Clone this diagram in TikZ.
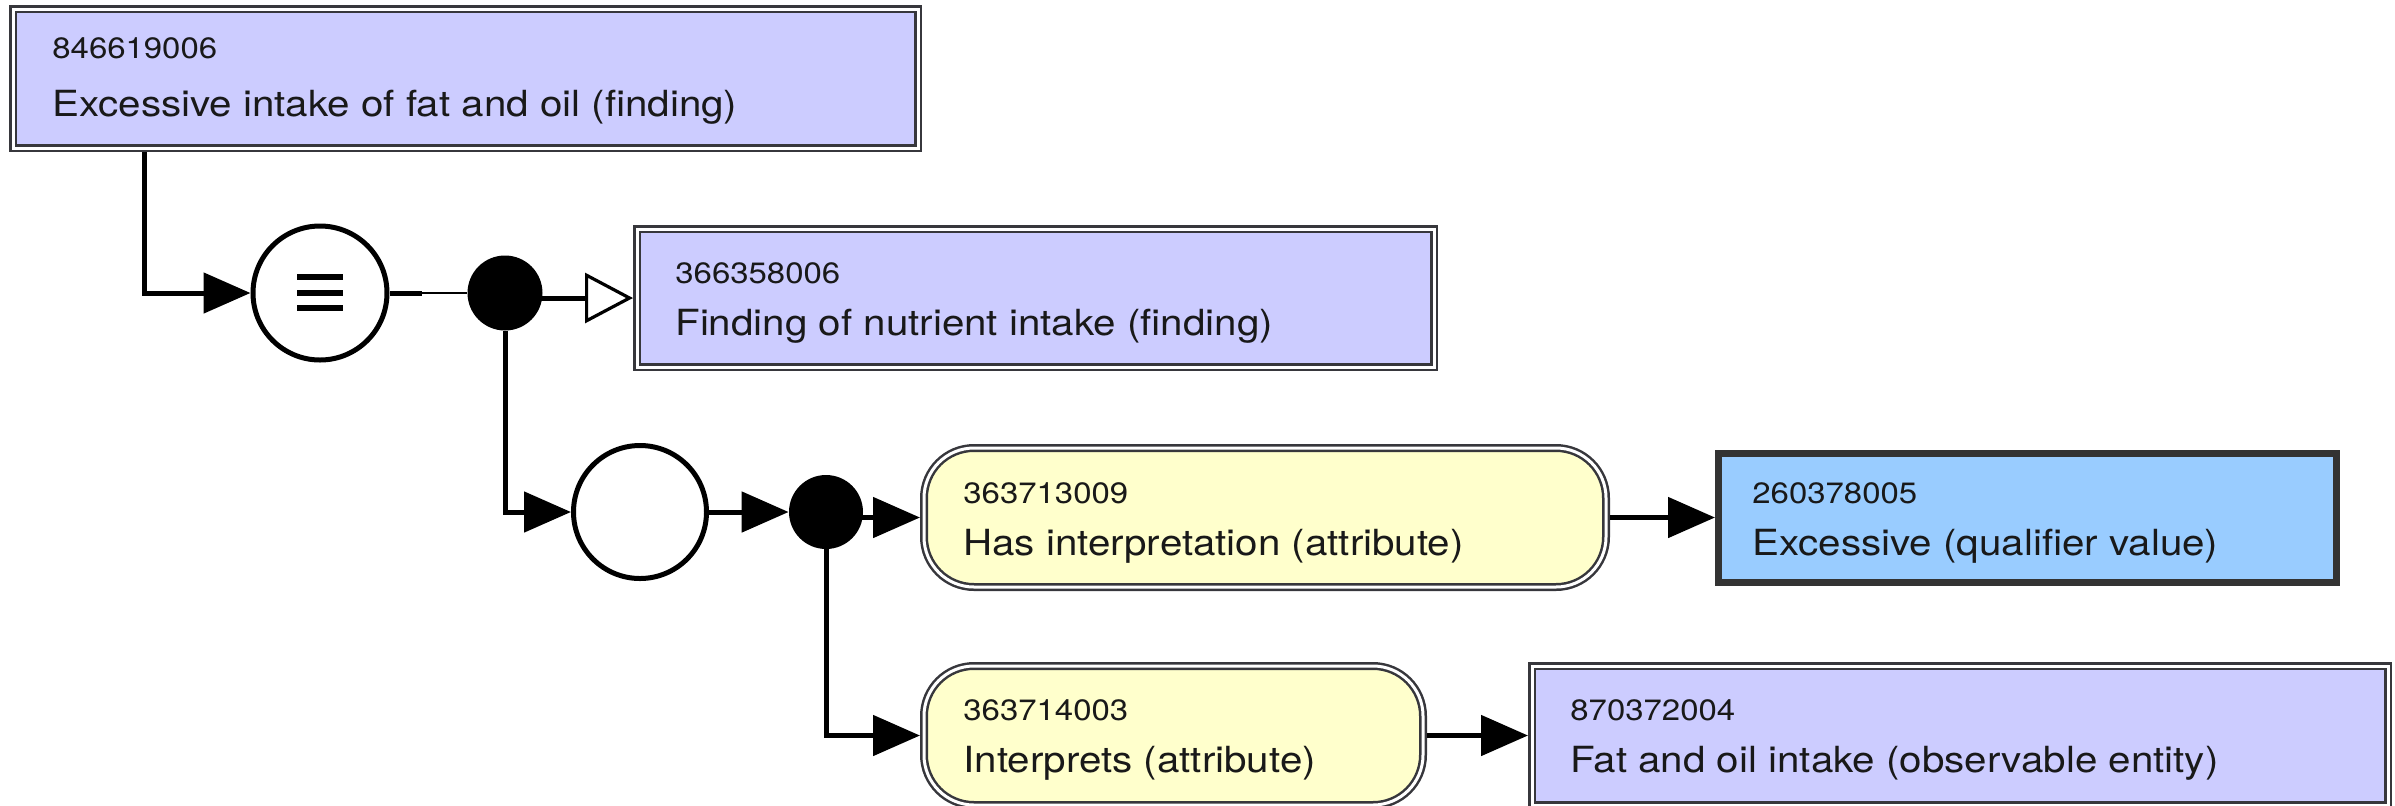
\documentclass[tikz,border=0pt]{standalone}
\usepackage{fontspec}
\usetikzlibrary{arrows.meta}
\newfontfamily\heros[FakeStretch=1.12]{TeX Gyre Heros}
\definecolor{lav}{RGB}{204,204,255}
\definecolor{pale}{RGB}{255,255,204}
\definecolor{sky}{RGB}{153,204,255}
\definecolor{edge}{RGB}{55,55,60}
\newcommand{\idtext}[1]{{\heros\fontsize{14.7pt}{16pt}\selectfont #1}}
\newcommand{\nametext}[1]{{\heros\fontsize{18pt}{20pt}\selectfont #1}}
\tikzset{
  concept/.style={rectangle, draw=edge, double=white, double distance=1.5pt,
    line width=1.25pt, fill=lav, inner sep=0pt, outer sep=2pt},
  attribute/.style={rectangle, rounded corners=25pt, draw=edge, double=white,
    double distance=1.5pt, line width=1.25pt, fill=pale, inner sep=0pt, outer sep=2pt},
  valuebox/.style={rectangle, draw=black!80, line width=3.5pt, fill=sky, inner sep=0pt},
  opcircle/.style={circle, draw=black, line width=2.5pt, fill=white, inner sep=0pt},
  junction/.style={circle, fill=black, inner sep=0pt},
  lbl/.style={anchor=base west, inner sep=0pt, text=black!90},
  conn/.style={line width=2.5pt, -{Triangle[length=23.5pt,width=20pt]}},
  isa/.style={line width=2.5pt, -{Triangle[open,length=24pt,width=25pt,line width=1.6pt,fill=white]}}
}
\begin{document}
\begin{tikzpicture}[x=0.5pt,y=-0.5pt]
\useasboundingbox (0,0) rectangle (2395,805);

% concept and attribute boxes
\node[concept, minimum width=452.5pt, minimum height=69.5pt] (root) at (465.5,78.5) {};
\node[concept, minimum width=398.5pt, minimum height=69pt] (fnd) at (1035.5,298) {};
\node[attribute, minimum width=341pt, minimum height=69.5pt] (attr1) at (1265,517.5) {};
\node[valuebox, minimum width=309pt, minimum height=64.5pt] (val1) at (2027.5,517.5) {};
\node[attribute, minimum width=249.5pt, minimum height=69.5pt] (attr2) at (1173.5,735.5) {};
\node[concept, minimum width=428pt, minimum height=69.5pt] (val2) at (1960,735.5) {};

% definition and grouping symbols
\node[opcircle, minimum size=67pt] (eq) at (320,293) {};
\foreach \dy in {-16,0,15}
  \draw[line width=3pt] ([shift={(-23,\dy)}]eq.center) -- ++(46,0);
\node[junction, minimum size=37.5pt] (dot1) at (505,293) {};
\node[opcircle, minimum size=66.5pt] (grp) at (640,512) {};
\node[junction, minimum size=37pt] (dot2) at (826,512) {};

% texts
\node[lbl] (root-id) at (52,58) {\idtext{846619006}};
\node[lbl] (root-name) at (52,116) {\nametext{Excessive intake of fat and oil (finding)}};
\node[lbl] (fnd-id) at (675,283) {\idtext{366358006}};
\node[lbl] (fnd-name) at (675,335) {\nametext{Finding of nutrient intake (finding)}};
\node[lbl] (attr1-id) at (963,503) {\idtext{363713009}};
\node[lbl] (attr1-name) at (963,555) {\nametext{Has interpretation (attribute)}};
\node[lbl] (val1-id) at (1752,503) {\idtext{260378005}};
\node[lbl] (val1-name) at (1752,555) {\nametext{Excessive (qualifier value)}};
\node[lbl] (attr2-id) at (963,720) {\idtext{363714003}};
\node[lbl] (attr2-name) at (963,772) {\nametext{Interprets (attribute)}};
\node[lbl] (val2-id) at (1570,720) {\idtext{870372004}};
\node[lbl] (val2-name) at (1570,772) {\nametext{Fat and oil intake (observable entity)}};

% connectors
\draw[conn] ([xshift=67.5pt]root.south west) |- (eq.west);
\draw[line width=2.5pt] (eq.east) -- ++(32,0) coordinate (stub);
\draw[line width=1pt] (stub) -- (dot1.west);
\draw[isa] (dot1.center |- fnd.west) -- (fnd.west);
\draw[conn] (dot1.south) |- (grp.west);
\draw[conn] (grp.east) -- (dot2.west);
\draw[conn] (dot2.center |- attr1.west) -- (attr1.west);
\draw[conn] (attr1.east) -- (attr1.east -| val1.west);
\draw[conn] (dot2.south) |- (attr2.west);
\draw[conn] (attr2.east) -- (attr2.east -| val2.west);
\end{tikzpicture}
\end{document}
